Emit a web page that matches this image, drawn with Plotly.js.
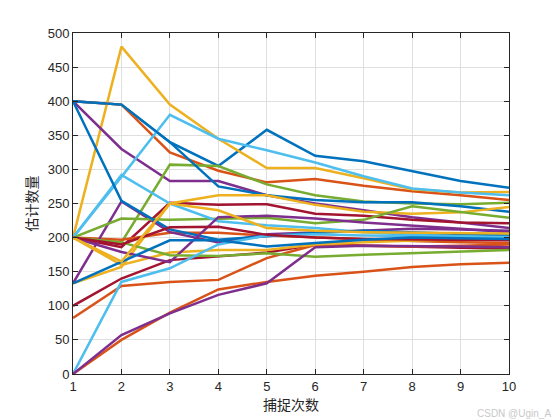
<!DOCTYPE html>
<html><head><meta charset="utf-8">
<script src="https://cdn.plot.ly/plotly-3.0.1.min.js"></script>
<style>html,body{margin:0;padding:0;background:#fff}</style>
</head><body>
<div id="chart" style="width:560px;height:420px"></div>
<script>
const captures = [1,2,3,4,5,6,7,8,9,10];
// estimated population per simulation run
const runF  = [400,395,340,305,358,320,312,297,283,273];
const runD  = [400,395,325,298,281,286,276,268,262,255];
const runY1 = [200,480,395,345,302,302,287,271,266,267];
const runE  = [400,330,283,283,262,250,240,230,222,214];
const runG2 = [200,193,307,305,278,262,253,250,249,251];
const runC1 = [200,289,380,345,328,310,290,272,266,262];
const runR1 = [200,186,251,248,249,235,232,226,222,221];
const runH  = [400,395,340,275,262,255,252,252,246,238];
const runO2 = [200,197,207,207,203,200,197,195,193,192];
const runY2 = [133,157,250,262,262,248,238,235,237,245];
const runC  = [133,253,208,193,205,208,211,213,212,210];
const runG1 = [200,228,226,228,229,221,226,246,237,229];
const runC2 = [200,292,250,224,218,214,208,204,202,200];
const runR2 = [100,140,167,172,178,190,188,186,185,184];
const runA  = [400,254,212,197,202,207,210,208,205,203];
const runO3 = [82,129,135,138,170,189,188,187,188,190];
const runY3 = [200,160,178,182,182,190,193,196,198,200];
const runJ  = [200,179,164,230,232,228,222,218,213,208];
const runG3 = [200,193,174,173,177,172,175,177,180,182];
const runC3 = [0,135,155,190,203,205,203,202,201,201];
const runR3 = [200,190,215,216,204,200,198,197,196,196];
const runB  = [133,165,196,196,187,192,197,200,199,198];
const runO4 = [0,50,90,124,135,144,150,157,161,163];
const runY4 = [200,165,250,240,214,210,208,207,206,206];
const runP4 = [0,57,89,116,133,186,188,188,187,186];

const runs = [runF,runD,runY1,runE,runG2,runC1,runR1,runH,runO2,runY2,runC,runG1,runC2,runR2,
              runA,runO3,runY3,runJ,runG3,runC3,runR3,runB,runO4,runY4,runP4];
const palette = ['#0072BD','#D95319','#EDB120','#7E2F8E','#77AC30','#4DBEEE','#A2142F'];
const xTicks = [1,2,3,4,5,6,7,8,9,10];
const yTicks = [0,50,100,150,200,250,300,350,400,450,500];

const traces = runs.map((r,i)=>({
  x: captures, y: r, type:'scatter', mode:'lines',
  line:{color: palette[i%7], width:2.5}, hoverinfo:'skip', showlegend:false
}));

const axisCommon = {
  showline:true, linecolor:'#262626', linewidth:1, mirror:'ticks',
  ticks:'inside', ticklen:5, tickcolor:'#262626',
  showgrid:true, gridcolor:'#dfdfdf', gridwidth:1, zeroline:false,
  tickfont:{family:'Liberation Sans, Arial, sans-serif', size:13, color:'#262626'}
};

const layout = {
  width:560, height:420,
  margin:{l:73, r:51, t:33, b:46},
  paper_bgcolor:'#fff', plot_bgcolor:'#fff',
  xaxis: Object.assign({}, axisCommon, {
    range:[1,10], tickvals:xTicks, ticktext:xTicks.map(String),
    title:{text:'捕捉次数', font:{family:'Noto Sans CJK SC', size:14, color:'#262626'}, standoff:6}
  }),
  yaxis: Object.assign({}, axisCommon, {
    range:[0,500], tickvals:yTicks, ticktext:yTicks.map(String),
    title:{text:'估计数量', font:{family:'Noto Sans CJK SC', size:14, color:'#262626'}, standoff:6}
  }),
  annotations:[{
    text:'CSDN @Ugin_A', xref:'paper', yref:'paper', x:1.1, y:-0.115,
    xanchor:'right', yanchor:'middle', showarrow:false,
    font:{family:'Liberation Sans, Arial, sans-serif', size:10, color:'#c8c8c8'}
  }]
};

Plotly.newPlot('chart', traces, layout, {staticPlot:true, displayModeBar:false});
</script>
</body></html>
